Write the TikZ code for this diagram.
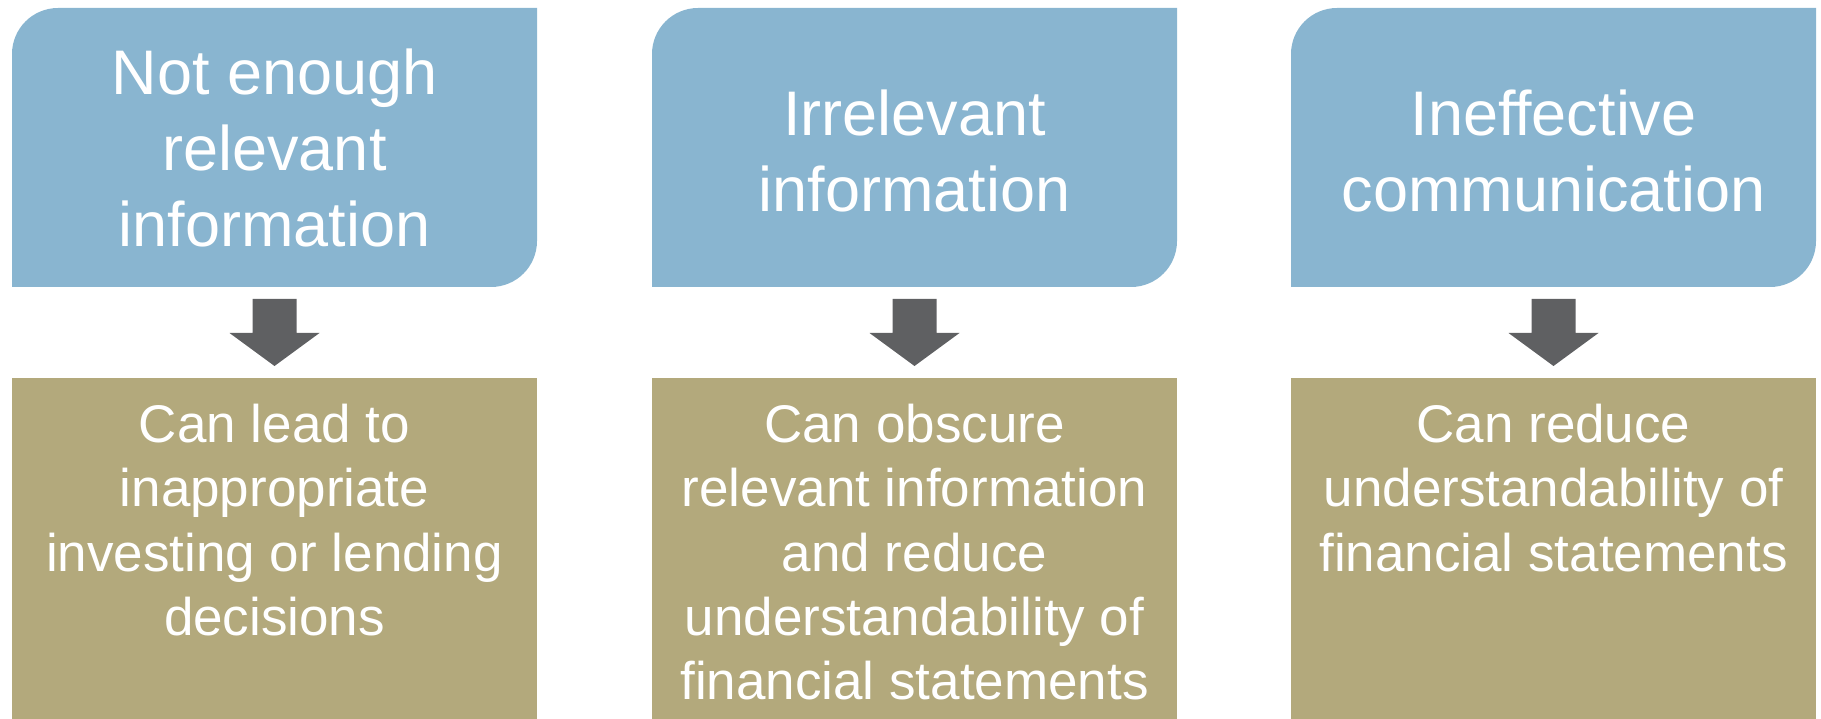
\documentclass[tikz,border=0pt]{standalone}
\usepackage{fontspec}
\setmainfont{Liberation Sans}
\usetikzlibrary{calc}
\definecolor{boxblue}{HTML}{89B5D0}
\definecolor{boxolive}{HTML}{B3A97C}
\definecolor{arrowgray}{HTML}{5F6062}
\tikzset{
  headarea/.style={rectangle, minimum width=525pt, minimum height=279pt, inner sep=0pt, outer sep=0pt},
  bodyarea/.style={rectangle, minimum width=525pt, minimum height=341pt, inner sep=0pt, outer sep=0pt, fill=boxolive},
  headtext/.style={text=white, anchor=base, inner sep=0pt, font=\fontsize{63}{76}\selectfont},
  bodytext/.style={text=white, anchor=base, inner sep=0pt, font=\fontsize{53}{64.5}\selectfont},
  downarrow/.style={fill=arrowgray},
}
\newcommand{\headshape}[1]{%
  \fill[boxblue] (#1.south west) -- ($(#1.north west)+(0,-46)$)
    arc[start angle=180, end angle=90, radius=46pt] -- (#1.north east)
    -- ($(#1.south east)+(0,46)$)
    arc[start angle=0, end angle=-90, radius=46pt] -- cycle;}
\newcommand{\downarrowshape}[2]{%
  \fill[downarrow] ($(#1.south)+(-22,-12)$) -- ($(#1.south)+(22,-12)$)
    -- ($(#1.south)+(22,-46)$) -- ($(#1.south)+(45,-46)$)
    -- ($(#2.north)+(0,12)$)
    -- ($(#1.south)+(-45,-46)$) -- ($(#1.south)+(-22,-46)$) -- cycle;}
\begin{document}
\begin{tikzpicture}[x=1pt, y=1pt]
\useasboundingbox (0,0) rectangle (1821,-719);

% header areas
\node[headarea] (b1) at (274.5,-147.5) {};
\node[headarea] (b2) at (914.5,-147.5) {};
\node[headarea] (b3) at (1553.5,-147.5) {};
\headshape{b1}
\headshape{b2}
\headshape{b3}

% body boxes
\node[bodyarea] (o1) at (274.5,-548.5) {};
\node[bodyarea] (o2) at (914.5,-548.5) {};
\node[bodyarea] (o3) at (1553.5,-548.5) {};

% arrows
\downarrowshape{b1}{o1}
\downarrowshape{b2}{o2}
\downarrowshape{b3}{o3}

% header texts
\node[headtext] (h1) at ($(b1.north)+(0,-87)$) {\parbox[t]{560pt}{\centering Not enough\\relevant\\information}};
\node[headtext] (h2) at ($(b2.north)+(0,-128)$) {\parbox[t]{560pt}{\centering Irrelevant\\information}};
\node[headtext] (h3) at ($(b3.north)+(0,-128)$) {\parbox[t]{560pt}{\centering Ineffective\\communication}};

% body texts
\node[bodytext] (t1) at ($(o1.north)+(0,-64)$) {\parbox[t]{560pt}{\centering Can lead to\\inappropriate\\investing or lending\\decisions}};
\node[bodytext] (t2) at ($(o2.north)+(0,-64)$) {\parbox[t]{560pt}{\centering Can obscure\\relevant information\\and reduce\\understandability of\\financial statements}};
\node[bodytext] (t3) at ($(o3.north)+(0,-64)$) {\parbox[t]{560pt}{\centering Can reduce\\understandability of\\financial statements}};
\end{tikzpicture}
\end{document}
